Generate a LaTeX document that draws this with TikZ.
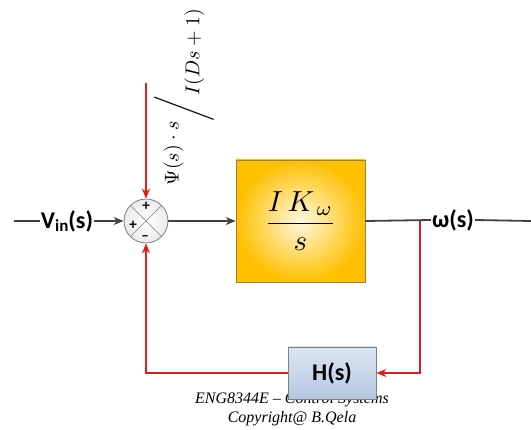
\documentclass[tikz,border=0pt]{standalone}
\usepackage{fontspec}
\newfontfamily\labelfont{Carlito}
\newfontfamily\footfont{Liberation Serif}
\usetikzlibrary{arrows.meta}
\definecolor{sgray}{HTML}{404040}
\definecolor{fred}{HTML}{E3191C}
\definecolor{gouter}{HTML}{FFC000}
\definecolor{ginner}{HTML}{FFF8E0}
\definecolor{gedge}{HTML}{A08040}
\definecolor{htop}{HTML}{DCE6F2}
\definecolor{hbot}{HTML}{B4C8E2}
\definecolor{hedge}{HTML}{7F7F7F}
\definecolor{cedge}{HTML}{7F7F7F}
\tikzset{
  sig/.style={draw=sgray, line width=1.8pt},
  fb/.style={draw=fred, line width=1.8pt},
  tip/.style={-{Stealth[length=10pt,width=8pt]}},
  lbl/.style={font=\labelfont\bfseries\fontsize{24}{26}\selectfont, inner sep=1pt},
  foot/.style={font=\footfont\itshape\fontsize{16}{18}\selectfont, inner sep=0pt},
  sgn/.style={font=\labelfont\bfseries\fontsize{15}{16}\selectfont, inner sep=0pt}
}
\begin{document}
\begin{tikzpicture}[x=1pt,y=-1pt]
\useasboundingbox (0,0) rectangle (531,430);
% footer (partly covered by H box)
\node[foot] (f1) at (292,400) {ENG8344E \textendash{} Control Systems};
\node[foot] (f2) at (292,419) {Copyright@ B.Qela};
% summing junction
\node[circle, draw=cedge, line width=0.8pt, minimum size=44pt, inner sep=0pt, inner color=white, outer color=black!8] (sum) at (146,221) {};
\draw[cedge, line width=0.7pt] (sum.north east) -- (sum.south west);
\draw[cedge, line width=0.7pt] (sum.north west) -- (sum.south east);
\node[sgn] (p1) at (146,206) {+};
\node[sgn] (p2) at (133,225) {+};
\node[sgn] (m1) at (145,238) {\textendash};
% input
\node[lbl] (vin) at (67,221) {V\raisebox{-0.3ex}{\fontsize{17}{18}\selectfont in}(s)};
\coordinate (start) at (14,221);
\draw[sig] (start) -- (vin.west);
\draw[sig, tip] (vin.east) -- (sum.west);
% plant
\node[draw=gedge, line width=0.6pt, minimum width=129pt, minimum height=122pt, inner color=ginner, outer color=gouter] (G) at (300.5,221)
  {\scalebox{2.9}{$\displaystyle\frac{I\,K_{\,\omega}}{s}$}};
\draw[sig, tip] (sum.east) -- (G.west);
% output
\node[lbl] (w) at (453,220) {ω(s)};
\coordinate (end) at (531,221);
\coordinate (j) at (420,221);
\draw[sig] (G.east) -- (w.west);
\draw[sig] (w.east) -- (end);
% feedback
\node[draw=hedge, line width=0.8pt, minimum width=88pt, minimum height=52pt, top color=htop, bottom color=hbot, font=\labelfont\bfseries\fontsize{24}{26}\selectfont] (H) at (332,373) {H(s)};
\draw[fb, tip] (j) |- (H.east);
\draw[fb, tip] (H.west) -| (sum.south);
% disturbance
\coordinate (d) at (146,83);
\draw[fb, tip] (d) -- (sum.north);
\node[rotate=90, inner sep=0pt] (psi) at (184,97)
  {\scalebox{2}{$\raisebox{1.2ex}{$\Psi(s)\cdot s$}\Bigg/\raisebox{-1.2ex}{$I(Ds+1)$}$}};
\end{tikzpicture}
\end{document}
